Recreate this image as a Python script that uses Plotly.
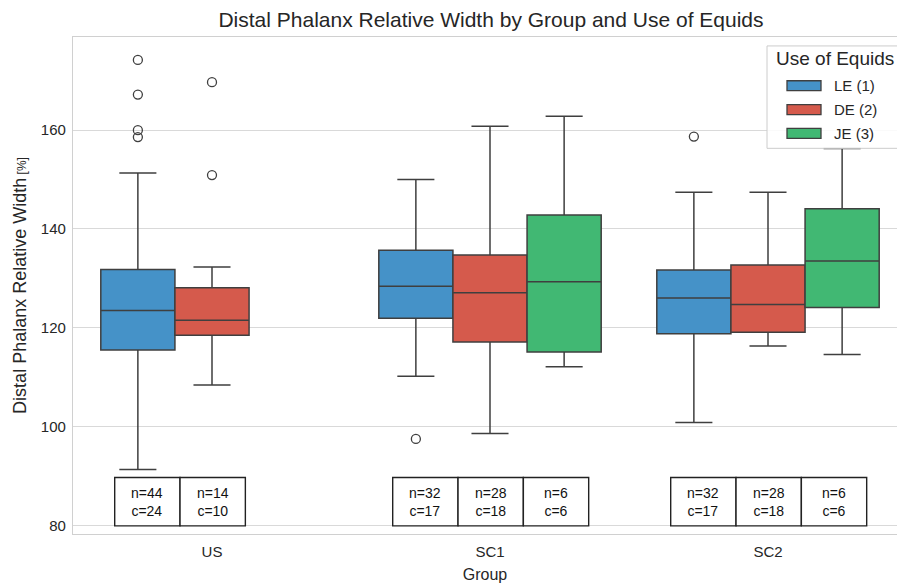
import plotly.graph_objects as go

# ---------------- data ----------------
groups = ["US", "SC1", "SC2"]
uses = ["LE (1)", "DE (2)", "JE (3)"]

# LE (1)
le_groups = ["US", "SC1", "SC2"]
le_lower = [91.3, 110.2, 100.8]
le_q1 = [115.5, 121.9, 118.8]
le_median = [123.5, 128.4, 126.0]
le_q3 = [131.8, 135.7, 131.7]
le_upper = [151.3, 150.0, 147.4]
le_out_groups = ["US", "US", "US", "US", "SC1", "SC2"]
le_out_vals = [174.2, 167.2, 160.0, 158.6, 97.5, 158.7]
le_n = [44, 32, 32]
le_c = [24, 17, 17]

# DE (2)
de_groups = ["US", "SC1", "SC2"]
de_lower = [108.4, 98.6, 116.3]
de_q1 = [118.5, 117.1, 119.1]
de_median = [121.5, 127.1, 124.7]
de_q3 = [128.1, 134.7, 132.7]
de_upper = [132.3, 160.8, 147.4]
de_out_groups = ["US", "US"]
de_out_vals = [169.7, 150.9]
de_n = [14, 28, 28]
de_c = [10, 18, 18]

# JE (3)
je_groups = ["SC1", "SC2"]
je_lower = [112.1, 114.6]
je_q1 = [115.1, 124.1]
je_median = [129.3, 133.5]
je_q3 = [142.8, 144.1]
je_upper = [162.8, 156.3]
je_out_groups = []
je_out_vals = []
je_n = [6, 6]
je_c = [6, 6]

colors = ["#4592c8", "#d55a4c", "#41b873"]
edge = "#3f3f3f"
FONT = "Liberation Sans, Arial, sans-serif"

# ---------------- figure geometry ----------------
W, H = 897, 583
PL, PT, PB = 73, 37, 537          # plot box in screen pixels (left, top, bottom)
ML, MT, MR = PL, PT, 0
MB = H - PB
plot_w = W - ML - MR
plot_h = H - MT - MB

box_w = 0.8 / 3
offsets = [-box_w, 0.0, box_w]

series = [
    (le_groups, le_lower, le_q1, le_median, le_q3, le_upper, le_out_groups, le_out_vals, le_n, le_c),
    (de_groups, de_lower, de_q1, de_median, de_q3, de_upper, de_out_groups, de_out_vals, de_n, de_c),
    (je_groups, je_lower, je_q1, je_median, je_q3, je_upper, je_out_groups, je_out_vals, je_n, je_c),
]

fig = go.Figure()
for h, (g, lo, q1, med, q3, up, og, ov, nn, cc) in enumerate(series):
    pos = [groups.index(k) + offsets[h] for k in g]
    fig.add_trace(go.Box(
        x=pos, q1=q1, median=med, q3=q3, lowerfence=lo, upperfence=up,
        width=box_w, fillcolor=colors[h], line=dict(color=edge, width=1.5),
        whiskerwidth=0.5, boxpoints=False, name=uses[h], showlegend=False,
    ))
    if ov:
        fig.add_trace(go.Scatter(
            x=[groups.index(k) + offsets[h] for k in og], y=ov, mode="markers",
            marker=dict(symbol="circle-open", size=9, color=edge, line=dict(width=1.3, color=edge)),
            showlegend=False, hoverinfo="skip",
        ))

shapes = []
annotations = []

# n / c table cells
cell_w = 0.235
cell_start = -0.35
cell_lo, cell_hi = 79.9, 89.7
for h, (g, lo, q1, med, q3, up, og, ov, nn, cc) in enumerate(series):
    for k, n_val, c_val in zip(g, nn, cc):
        gi = groups.index(k)
        x0 = gi + cell_start + h * cell_w
        x1 = x0 + cell_w
        shapes.append(dict(type="rect", xref="x", yref="y", x0=x0, x1=x1, y0=cell_lo, y1=cell_hi,
                           fillcolor="white", line=dict(color="#222222", width=1.4), layer="above"))
        annotations.append(dict(xref="x", yref="y", x=(x0 + x1) / 2, y=(cell_lo + cell_hi) / 2,
                                text=f"n={n_val}<br>c={c_val}", showarrow=False,
                                font=dict(size=14, color="#111111", family=FONT)))

# custom legend (matplotlib style), positioned in screen pixels
def px(xp):
    return (xp - PL) / plot_w

def py(yp):
    return (PB - yp) / plot_h

shapes.append(dict(type="rect", xref="paper", yref="paper", x0=px(767), x1=px(905), y0=py(149), y1=py(46),
                   fillcolor="rgba(255,255,255,0.85)", line=dict(color="#cccccc", width=1), layer="above"))
annotations.append(dict(xref="paper", yref="paper", x=px(774), y=py(59), xanchor="left", yanchor="middle",
                        text="Use of Equids", showarrow=False,
                        font=dict(size=19, color="#262626", family=FONT)))
row_y = [86, 110, 134]
for h in range(3):
    shapes.append(dict(type="rect", xref="paper", yref="paper", x0=px(787), x1=px(821),
                       y0=py(row_y[h] + 5), y1=py(row_y[h] - 5),
                       fillcolor=colors[h], line=dict(color=edge, width=1.3), layer="above"))
    annotations.append(dict(xref="paper", yref="paper", x=px(832), y=py(row_y[h]), xanchor="left", yanchor="middle",
                            text=uses[h], showarrow=False,
                            font=dict(size=15, color="#262626", family=FONT)))

fig.update_layout(
    width=W, height=H,
    margin=dict(l=ML, r=MR, t=MT, b=MB, pad=0),
    paper_bgcolor="white", plot_bgcolor="white",
    font=dict(family=FONT, color="#262626", size=15),
    title=dict(text="Distal Phalanx Relative Width by Group and Use of Equids",
               x=491 / W, xref="container", xanchor="center",
               y=1 - 20 / H, yref="container", yanchor="middle",
               font=dict(size=21, color="#262626")),
    showlegend=False,
    boxmode="overlay",
    shapes=shapes,
    annotations=annotations,
    xaxis=dict(
        range=[-0.5, -0.5 + plot_w / 278.0],
        tickvals=list(range(len(groups))), ticktext=groups,
        showgrid=False, zeroline=False, ticks="",
        showline=True, mirror=True, linecolor="#d0d0d0", linewidth=1.3,
        tickfont=dict(size=15, color="#262626"),
        ticklabelstandoff=4,
        title=dict(text="Group", font=dict(size=16, color="#262626"), standoff=12),
    ),
    yaxis=dict(
        range=[78.25, 178.85],
        tickvals=[80, 100, 120, 140, 160],
        showgrid=True, gridcolor="#d9d9d9", gridwidth=1, zeroline=False, ticks="",
        showline=True, mirror=False, linecolor="#d0d0d0", linewidth=1.3,
        tickfont=dict(size=15, color="#262626"),
        ticklabelstandoff=3,
        title=dict(text="Distal Phalanx Relative Width<span style='font-size:12px'> [%]</span>",
                   font=dict(size=18, color="#262626"), standoff=9),
    ),
)

# remove the browser's default page margin so the figure fills the window exactly
fig.write_html(
    "out.html",
    config={"displayModeBar": False},
    post_script="document.body.style.margin='0';document.body.style.overflow='hidden';",
)
